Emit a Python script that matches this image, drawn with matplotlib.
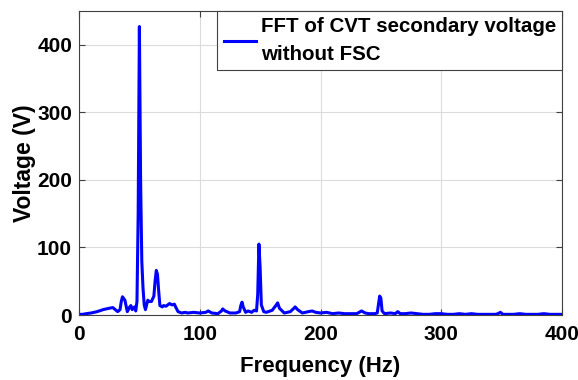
import matplotlib.pyplot as plt
import numpy as np

plt.rcParams['font.family'] = ['Liberation Sans', 'DejaVu Sans']

# Spectrum (Hz, V)
freq = [0, 3, 6, 10, 15, 20, 25, 28, 30, 32, 34, 35, 36, 38, 40, 42, 43, 44, 46, 47,
        48, 49, 50, 51, 52, 53, 54, 55, 57, 58, 60, 62, 63, 64, 65, 66, 67, 69, 70, 72,
        75, 77, 79, 80, 82, 85, 88, 90, 95, 100, 105, 107, 110, 115, 118, 119, 121, 125,
        130, 133, 134, 135, 136, 138, 140, 143, 145, 147, 148, 149, 150, 151, 153, 155,
        160, 163, 164.5, 166, 170, 175, 178, 179, 181, 185, 190, 193, 196, 200, 205, 210,
        215, 220, 225, 230, 234, 237, 240, 245, 247, 248, 249, 250, 251, 253, 258, 262,
        264, 266, 270, 275, 280, 285, 290, 295, 300, 305, 310, 315, 320, 325, 330, 335,
        340, 345, 347, 349, 351, 355, 360, 365, 370, 375, 380, 385, 390, 395, 400]
voltage = [1, 1, 2, 3, 5, 8, 10, 11, 8, 5, 8, 20, 27, 22, 5, 12, 14, 8, 12, 6,
           20, 150, 427, 200, 80, 40, 15, 8, 22, 20, 20, 28, 50, 66, 60, 35, 14, 12, 14, 13,
           17, 15, 16, 12, 5, 3, 4, 3, 4, 3, 4, 6, 3, 2, 6, 9, 6, 3,
           3, 5, 14, 19, 12, 4, 6, 4, 7, 6, 30, 105, 70, 15, 5, 4,
           7, 14, 18, 10, 3, 5, 10, 12, 8, 3, 5, 6, 4, 3, 4, 2,
           3, 2, 2, 2, 6, 3, 2, 2, 3, 15, 28, 25, 6, 2, 3, 2,
           5, 2, 2, 3, 2, 1, 1, 2, 2, 1, 1, 2, 1, 2, 1, 1,
           1, 1, 2, 4, 1, 1, 1, 2, 1, 1, 1, 2, 1, 1, 1]

fig = plt.figure(figsize=(5.78, 3.8), dpi=100)
ax = fig.add_axes([0.1367, 0.171, 0.8356, 0.800])

ax.plot(freq, voltage, color='#0000ff', linewidth=2.2,
        label='FFT of CVT secondary voltage\nwithout FSC')

ax.set_xlim(0, 400)
ax.set_ylim(0, 450)
ax.set_xticks(np.arange(0, 401, 100))
ax.set_yticks(np.arange(0, 401, 100))

ax.grid(True, color='#dcdcdc', linewidth=0.8)
ax.set_axisbelow(True)

for s in ax.spines.values():
    s.set_color('#404040')
    s.set_linewidth(0.8)

ax.tick_params(direction='in', top=True, right=True, length=4, width=0.8,
               color='#404040', labelsize=15)
ax.tick_params(axis='x', pad=7)
ax.tick_params(axis='y', pad=5)
for lbl in ax.get_xticklabels() + ax.get_yticklabels():
    lbl.set_fontweight('bold')

ax.set_xlabel('Frequency (Hz)', fontsize=16, fontweight='bold', labelpad=9)
ax.set_ylabel('Voltage (V)', fontsize=16.5, fontweight='bold', labelpad=1)

leg = ax.legend(loc='upper right', fancybox=False, framealpha=1, edgecolor='#404040',
                prop={'weight': 'bold', 'size': 14.8}, borderaxespad=0,
                handlelength=1.6, handletextpad=0.2, borderpad=0.3)
leg.get_frame().set_linewidth(0.8)
for t in leg.get_texts():
    t.set_linespacing(1.6)

plt.savefig('out.png', dpi=100)
plt.close(fig)
